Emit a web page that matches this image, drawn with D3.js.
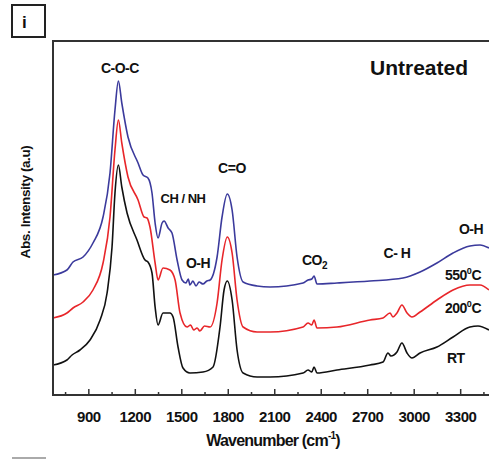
<!DOCTYPE html>
<html><head><meta charset="utf-8">
<script src="https://cdn.jsdelivr.net/npm/d3@7"></script>
<style>body{margin:0;background:#fff}svg{display:block}text{font-family:"Liberation Sans",Arial,sans-serif;font-weight:bold;fill:#111}</style>
</head><body><svg id="c" width="489" height="459"></svg>
<script>
// Wavenumber (cm-1) and absorbance (a.u.) per series
const rtWn  = [672,762,795,846,911,976,1021,1053,1072,1094,1116,1150,1214,1266,1285,1311,1331,1350,1382,1427,1447,1479,1511,1556,1640,1705,1750,1776,1797,1828,1860,1899,1989,2073,2286,2318,2342,2357,2376,2505,2718,2802,2834,2853,2892,2924,2957,2989,3041,3150,3254,3363,3415,3486];
const rtAbs = [0.30,0.35,0.40,0.45,0.55,0.75,1.02,1.48,2.02,2.30,2.08,1.82,1.55,1.35,1.33,1.22,0.88,0.70,0.82,0.82,0.78,0.48,0.27,0.22,0.23,0.28,0.68,1.05,1.14,0.95,0.45,0.22,0.18,0.18,0.22,0.25,0.23,0.28,0.22,0.25,0.30,0.33,0.42,0.39,0.43,0.52,0.42,0.37,0.42,0.48,0.58,0.68,0.69,0.65];

const t200Wn  = [672,762,801,866,930,995,1040,1072,1094,1116,1156,1221,1260,1279,1298,1331,1350,1382,1427,1460,1492,1537,1560,1580,1602,1620,1650,1686,1731,1763,1797,1828,1860,1899,1989,2073,2286,2318,2342,2357,2376,2505,2718,2802,2847,2866,2892,2924,2957,2989,3041,3150,3254,3363,3428,3486];
const t200Abs = [0.77,0.82,0.87,0.93,1.05,1.32,1.78,2.45,2.75,2.52,2.18,1.95,1.78,1.77,1.68,1.32,1.15,1.27,1.25,1.15,0.82,0.68,0.70,0.65,0.67,0.64,0.69,0.68,0.92,1.35,1.58,1.42,0.95,0.68,0.63,0.63,0.68,0.72,0.70,0.75,0.67,0.68,0.75,0.77,0.82,0.78,0.82,0.90,0.82,0.78,0.83,0.95,1.05,1.10,1.10,1.05];

const t550Wn  = [672,762,801,866,930,995,1040,1072,1094,1116,1156,1221,1253,1285,1311,1331,1350,1376,1389,1415,1440,1473,1505,1530,1545,1556,1575,1595,1615,1640,1665,1686,1731,1763,1797,1828,1860,1899,1989,2073,2286,2318,2342,2357,2376,2505,2718,2931,3041,3150,3254,3363,3428,3486];
const t550Abs = [1.20,1.25,1.33,1.38,1.52,1.78,2.22,2.85,3.14,2.92,2.58,2.32,2.20,2.17,2.02,1.72,1.57,1.72,1.74,1.67,1.62,1.35,1.15,1.12,1.16,1.10,1.14,1.09,1.13,1.11,1.14,1.15,1.38,1.78,2.01,1.85,1.38,1.13,1.09,1.08,1.12,1.15,1.16,1.19,1.11,1.12,1.14,1.17,1.23,1.32,1.42,1.49,1.50,1.47];

const majorTicks = [900,1200,1500,1800,2100,2400,2700,3000,3300];
const minorTicks = [750,1050,1350,1650,1950,2250,2550,2850,3150,3450];

const svg = d3.select("#c");
const L = 53, T = 41, R = 489, B = 395;
const x = d3.scaleLinear().domain([672, 3486]).range([L, R]);
const y = d3.scaleLinear().domain([0, 3.54]).range([B, T]);

// panel letter box
svg.append("rect").attr("x",12).attr("y",5).attr("width",33).attr("height",32)
  .attr("fill","none").attr("stroke","#222").attr("stroke-width",2);
svg.append("text").attr("x",22).attr("y",28).attr("font-size",17).text("i");
svg.append("line").attr("x1",12).attr("x2",46).attr("y1",458).attr("y2",458).attr("stroke","#aaa").attr("stroke-width",2);

const clip = svg.append("defs").append("clipPath").attr("id","pc");
clip.append("rect").attr("x",L).attr("y",T).attr("width",R-L).attr("height",B-T);

const line = d3.line().x(d=>x(d[0])).y(d=>y(d[1])).curve(d3.curveMonotoneX);
const series = [
  {wn:rtWn, a:rtAbs, c:"#111111"},
  {wn:t200Wn, a:t200Abs, c:"#e8262a"},
  {wn:t550Wn, a:t550Abs, c:"#3b3a9c"}
];
const g = svg.append("g").attr("clip-path","url(#pc)");
series.forEach(s=>{
  g.append("path").datum(d3.zip(s.wn, s.a)).attr("d", line)
   .attr("fill","none").attr("stroke", s.c).attr("stroke-width",1.6);
});

// frame
svg.append("path").attr("d",`M${R},${T}H${L}V${B}H${R}`).attr("fill","none").attr("stroke","#333").attr("stroke-width",2);

// x axis ticks
const ax = svg.append("g").attr("transform",`translate(0,${B})`);
ax.call(d3.axisBottom(x).tickValues(majorTicks).tickSizeInner(-6).tickSizeOuter(0).tickPadding(16).tickFormat(d3.format("d")));
ax.select(".domain").remove();
ax.selectAll(".tick line").attr("stroke","#333").attr("stroke-width",1.5);
ax.selectAll(".tick text").attr("font-size",15).attr("font-family","Liberation Sans, Arial, sans-serif").attr("font-weight","bold").attr("fill","#111").attr("letter-spacing","-0.5");
const axm = svg.append("g").attr("transform",`translate(0,${B})`);
axm.call(d3.axisBottom(x).tickValues(minorTicks).tickSizeInner(-3).tickSizeOuter(0).tickFormat(""));
axm.select(".domain").remove();
axm.selectAll(".tick line").attr("stroke","#333").attr("stroke-width",1.5);

// axis titles
const xt = svg.append("text").attr("x",273).attr("y",446).attr("text-anchor","middle").attr("font-size",16).attr("letter-spacing","-0.8");
xt.append("tspan").text("Wavenumber (cm");
xt.append("tspan").attr("font-size",10).attr("dy",-7).text("-1");
xt.append("tspan").attr("dy",7).text(")");
svg.append("text").attr("transform","translate(30,202) rotate(-90)").attr("text-anchor","middle").attr("font-size",13.5).attr("letter-spacing","-0.4").text("Abs. Intensity (a.u)");

// annotations
function lab(t, wx, py, fs, anchor){
  return svg.append("text").attr("x", x(wx)).attr("y", py).attr("text-anchor", anchor||"middle").attr("font-size", fs).attr("letter-spacing","-0.5").text(t);
}
lab("C-O-C", 1104, 73, 14);
lab("CH / NH", 1511, 203, 13);
lab("O-H", 1608, 268, 14);
lab("C=O", 1827, 173, 14);
lab("C- H", 2892, 258, 14);
lab("O-H", 3370, 234, 14);
lab("RT", 3215, 363, 14, "start");
svg.append("text").attr("x",370).attr("y",75).attr("font-size",21).text("Untreated");
const co = svg.append("text").attr("x",302).attr("y",265).attr("font-size",14).attr("letter-spacing","-0.5");
co.append("tspan").text("CO");
co.append("tspan").attr("font-size",10).attr("dy",4).text("2");
function temp(t, py){
  const e = svg.append("text").attr("x",445).attr("y",py).attr("font-size",14).attr("letter-spacing","-0.5");
  e.append("tspan").text(t);
  e.append("tspan").attr("font-size",9).attr("dy",-6).text("0");
  e.append("tspan").attr("dy",6).text("C");
}
temp("550", 280);
temp("200", 313);
</script></body></html>
